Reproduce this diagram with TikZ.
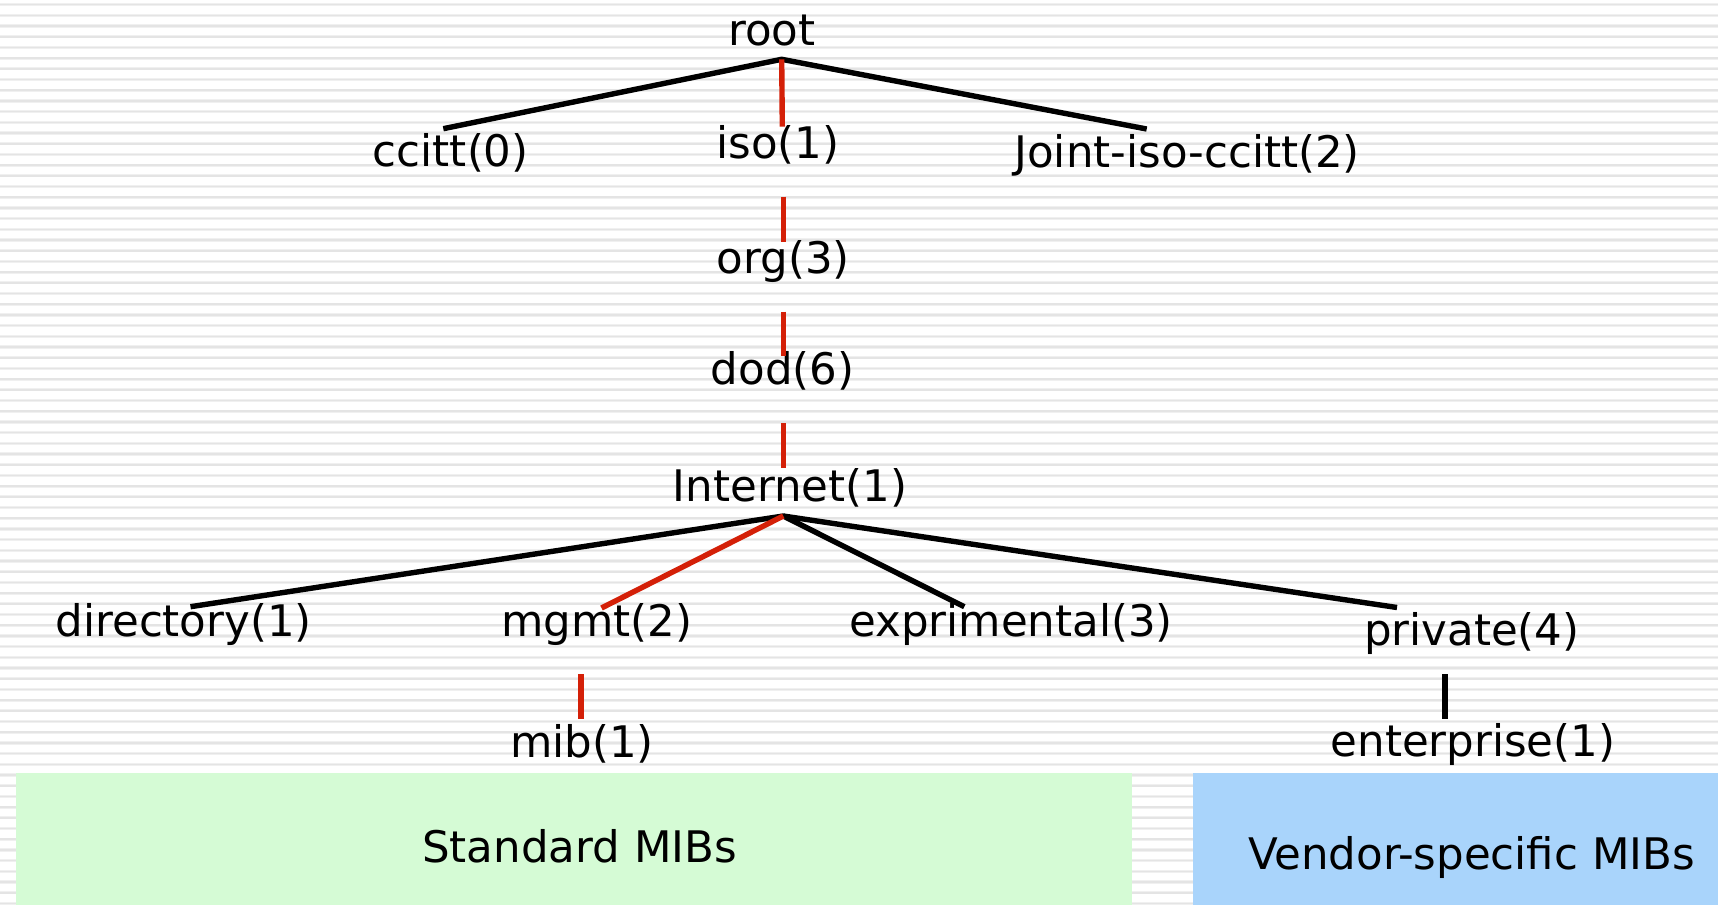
\documentclass[tikz,border=0pt]{standalone}
\usepackage{fontspec}
\setmainfont{DejaVu Sans}
\definecolor{stripegray}{RGB}{228,228,228}
\definecolor{stripeedge}{RGB}{240,240,240}
\definecolor{pathred}{RGB}{212,32,8}
\definecolor{stdgreen}{RGB}{213,251,213}
\definecolor{vendblue}{RGB}{169,212,251}
\tikzset{
  label/.style={anchor=base, inner sep=0pt, font=\fontsize{21.75}{26}\selectfont},
  branch/.style={line width=2.7pt, black},
  mainpath/.style={line width=2.7pt, pathred},
  boxtext/.style={anchor=base, inner sep=0pt, font=\fontsize{21.75}{26}\selectfont},
}
\begin{document}
\begin{tikzpicture}[x=0.5pt, y=-0.5pt]
  % page and striped background
  \useasboundingbox (0,0) rectangle (1718,905);
  \fill[white] (0,0) rectangle (1718,905);
  \foreach \k in {0,...,84} {
    \draw[stripeedge, line width=1.6pt] (0,{4.67+10.7*\k}) -- (1718,{4.67+10.7*\k});
    \draw[stripegray, line width=0.8pt] (0,{4.67+10.7*\k}) -- (1718,{4.67+10.7*\k});
  }

  % bottom bands
  \fill[stdgreen] (16,773.3) rectangle (1131.5,905);
  \fill[vendblue] (1193.4,773.3) rectangle (1718,905);
  \node[boxtext] (std) at (579.6,862) {Standard MIBs};
  \node[boxtext] (vend) at (1471.5,869.3) {Vendor-specific MIBs};

  % tree labels
  \node[label] (root) at (771.7,45) {root};
  \node[label] (ccitt) at (450.8,166.7) {ccitt(0)};
  \node[label] (iso) at (778,158.3) {iso(1)};
  \node[label] (joint) at (1187.2,167.3) {Joint-iso-ccitt(2)};
  \node[label] (org) at (783.3,273.3) {org(3)};
  \node[label] (dod) at (782.7,384) {dod(6)};
  \node[label] (internet) at (790,501) {Internet(1)};
  \node[label] (directory) at (183.7,636) {directory(1)};
  \node[label] (mgmt) at (596.9,636) {mgmt(2)};
  \node[label] (exp) at (1011.2,636.7) {exprimental(3)};
  \node[label] (private) at (1471.7,645) {private(4)};
  \node[label] (mib) at (582,757) {mib(1)};
  \node[label] (enterprise) at (1473,756.7) {enterprise(1)};

  % connector end points
  \coordinate (root-out) at (781.7,59.3);
  \coordinate (ccitt-in) at (443.3,128.7);
  \coordinate (iso-in) at (782.3,126.7);
  \coordinate (joint-in) at (1146.7,129);
  \coordinate (iso-out) at (783.3,196.7);
  \coordinate (org-in) at (783.3,241.7);
  \coordinate (org-out) at (783.3,311.7);
  \coordinate (dod-in) at (783.3,356);
  \coordinate (dod-out) at (783.3,423.3);
  \coordinate (internet-in) at (783.3,468.3);
  \coordinate (internet-out) at (783.3,516);
  \coordinate (directory-in) at (190.5,606.7);
  \coordinate (mgmt-in) at (601.5,608);
  \coordinate (exp-in) at (964.3,606.7);
  \coordinate (private-in) at (1397,607.5);
  \coordinate (mgmt-out) at (580.8,674.3);
  \coordinate (mib-in) at (580.8,719.3);
  \coordinate (private-out) at (1445,674);
  \coordinate (enterprise-in) at (1445,719);

  % branches
  \draw[branch] (ccitt-in) -- (root-out) -- (joint-in);
  \draw[mainpath] (root-out) -- (iso-in);
  \draw[mainpath] (iso-out) -- (org-in);
  \draw[mainpath] (org-out) -- (dod-in);
  \draw[mainpath] (dod-out) -- (internet-in);
  \draw[branch] (directory-in) -- (internet-out) -- (private-in);
  \draw[branch] (internet-out) -- (exp-in);
  \draw[mainpath] (internet-out) -- (mgmt-in);
  \draw[mainpath] (mgmt-out) -- (mib-in);
  \draw[branch] (private-out) -- (enterprise-in);
\end{tikzpicture}
\end{document}
